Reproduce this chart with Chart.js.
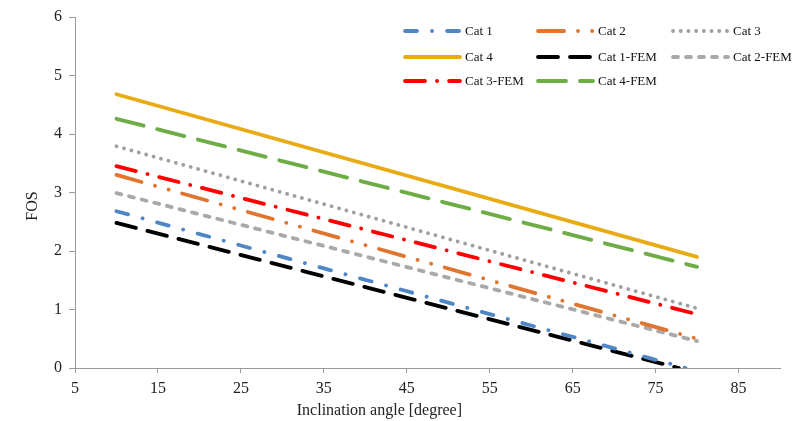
<!DOCTYPE html>
<html>
<head>
<meta charset="utf-8">
<script src="https://cdn.jsdelivr.net/npm/chart.js@4/dist/chart.umd.min.js"></script>
<style>
  body { margin: 0; background: #fff; }
  #wrap { width: 792px; height: 421px; }
</style>
</head>
<body>
<div id="wrap"><canvas id="fosChart" width="792" height="421"></canvas></div>
<script>
// series names, in legend order
const seriesNames = ['Cat 1', 'Cat 2', 'Cat 3', 'Cat 4', 'Cat 1-FEM', 'Cat 2-FEM', 'Cat 3-FEM', 'Cat 4-FEM'];
// FOS at the first angle and at the last angle of each series
const startAngle = [10, 10, 10, 10, 10, 10, 10, 10];
const startFos = [2.68, 3.30, 3.79, 4.68, 2.48, 2.99, 3.45, 4.26];
const endAngle = [78.6, 80, 80, 80, 77.8, 80, 80, 80];
const endFos = [0, 0.50, 1.02, 1.90, 0, 0.46, 0.92, 1.73];
// axis ticks
const xTicks = [5, 15, 25, 35, 45, 55, 65, 75, 85];
const yTicks = [0, 1, 2, 3, 4, 5, 6];

const colors = ['#4F86C6', '#E0752F', '#A0A0A0', '#E8AB13', '#000000', '#A9A9A9', '#FF0000', '#6EAD45'];
const dashes = [
  [12, 15, 0.1, 15],          // long dash dot
  [26, 14, 0.1, 14, 0.1, 14], // long dash dot dot
  [0.1, 7.6],                 // round dots
  [],                         // solid
  [20, 12],                   // long dash
  [5, 8],                     // short dash
  [20, 12, 0.1, 12],          // long dash dot
  [28, 14]                    // long dash
];

const datasets = seriesNames.map((name, i) => ({
  label: name,
  data: [
    { x: startAngle[i], y: startFos[i] },
    { x: endAngle[i], y: endFos[i] }
  ],
  borderColor: colors[i],
  backgroundColor: colors[i],
  borderWidth: 3.8,
  borderDash: dashes[i],
  borderCapStyle: 'round',
  pointRadius: 0,
  tension: 0,
  fill: false
}));

const serif = '"Liberation Serif", "Times New Roman", serif';
Chart.defaults.font.family = serif;
Chart.defaults.font.size = 16;
Chart.defaults.color = '#222';

// legend in three columns at the top right, plus the two axis titles
const extras = {
  id: 'extras',
  afterDraw(chart) {
    const ctx = chart.ctx;
    const cols = [405, 538, 673];
    const rows = [31, 57, 81];
    ctx.save();
    chart.data.datasets.forEach((ds, i) => {
      const x = cols[i % 3];
      const y = rows[Math.floor(i / 3)];
      ctx.beginPath();
      ctx.strokeStyle = ds.borderColor;
      ctx.lineWidth = ds.borderWidth;
      ctx.lineCap = 'round';
      ctx.setLineDash(ds.borderDash);
      ctx.moveTo(x, y);
      ctx.lineTo(x + 55, y);
      ctx.stroke();
      ctx.setLineDash([]);
      ctx.fillStyle = '#111';
      ctx.font = '13px ' + serif;
      ctx.textAlign = 'left';
      ctx.textBaseline = 'middle';
      ctx.fillText(ds.label, x + 60, y + 1);
    });

    ctx.font = '16px ' + serif;
    ctx.fillStyle = '#222';
    ctx.textAlign = 'center';
    ctx.textBaseline = 'middle';
    const xs = chart.scales.x;
    ctx.fillText('Inclination angle [degree]', xs.getPixelForValue(41.7), 411);

    ctx.translate(33, 206);
    ctx.rotate(-Math.PI / 2);
    ctx.fillText('FOS', 0, 0);
    ctx.restore();
  }
};

new Chart(document.getElementById('fosChart'), {
  type: 'line',
  data: { datasets: datasets },
  options: {
    responsive: false,
    animation: false,
    layout: { padding: { left: 0, top: 17, right: 12, bottom: 0 } },
    plugins: {
      legend: { display: false },
      tooltip: { enabled: false }
    },
    scales: {
      x: {
        type: 'linear',
        min: 5,
        max: 90,
        afterBuildTicks: (scale) => { scale.ticks = xTicks.map(v => ({ value: v })); },
        afterFit: (scale) => { scale.height = 53; },
        grid: { drawOnChartArea: false, drawTicks: true, tickLength: 5, color: '#999' },
        border: { color: '#999', width: 1 },
        ticks: { padding: 6, maxRotation: 0 }
      },
      y: {
        type: 'linear',
        min: 0,
        max: 6,
        afterBuildTicks: (scale) => { scale.ticks = yTicks.map(v => ({ value: v })); },
        afterFit: (scale) => { scale.width = 75; },
        grid: { drawOnChartArea: false, drawTicks: true, tickLength: 6, color: '#999' },
        border: { color: '#999', width: 1 },
        ticks: { padding: 7 }
      }
    }
  },
  plugins: [extras]
});
</script>
</body>
</html>
